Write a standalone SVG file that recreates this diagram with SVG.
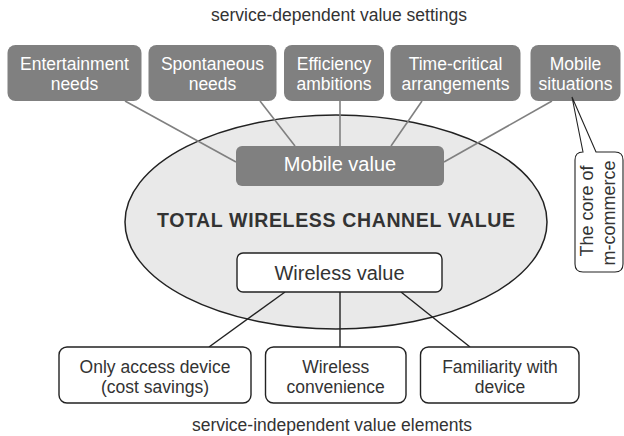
<svg xmlns="http://www.w3.org/2000/svg" width="624" height="436" viewBox="0 0 624 436">
<style>
text{font-family:"Liberation Sans",Arial,sans-serif;font-size:17.5px;text-anchor:middle;fill:#333}
.dk rect{fill:#808080;stroke:none}
.dk text{fill:#fff}
.lt rect{fill:#fff;stroke:#222;stroke-width:1.4}
.gl{stroke:#808080;stroke-width:1.6;fill:none}
.bl{stroke:#222;stroke-width:1.4;fill:none}
</style>
<rect width="624" height="436" fill="#fff"/>
<text x="339" y="21">service-dependent value settings</text>
<text x="332" y="431">service-independent value elements</text>
<g id="ellipse">
<ellipse cx="336" cy="222" rx="211" ry="107" fill="#e9e9e9" stroke="#222" stroke-width="1.5"/>
<text x="336" y="227" style="font-weight:bold;font-size:19.5px" textLength="358" lengthAdjust="spacing">TOTAL WIRELESS CHANNEL VALUE</text>
</g>
<g id="connectors">
<line class="gl" x1="125" y1="101" x2="236" y2="162"/>
<line class="gl" x1="260" y1="101" x2="295" y2="146"/>
<line class="gl" x1="340" y1="101" x2="340" y2="146"/>
<line class="gl" x1="422" y1="101" x2="391" y2="146"/>
<line class="gl" x1="552" y1="101" x2="444" y2="162"/>
<line class="bl" x1="285" y1="292" x2="209" y2="347"/>
<line class="bl" x1="340" y1="292" x2="340" y2="347"/>
<line class="bl" x1="401" y1="292" x2="470" y2="347"/>
</g>
<g id="entertainment" class="dk"><rect x="7.5" y="45" width="134" height="56" rx="8"/><text x="74.5" y="70">Entertainment</text><text x="74.5" y="90">needs</text></g>
<g id="spontaneous" class="dk"><rect x="148.5" y="45" width="128" height="56" rx="8"/><text x="212.5" y="70">Spontaneous</text><text x="212.5" y="90">needs</text></g>
<g id="efficiency" class="dk"><rect x="284" y="45" width="100" height="56" rx="8"/><text x="334" y="70">Efficiency</text><text x="334" y="90">ambitions</text></g>
<g id="timecritical" class="dk"><rect x="390.5" y="45" width="130" height="56" rx="8"/><text x="455.5" y="70">Time-critical</text><text x="455.5" y="90">arrangements</text></g>
<g id="mobilesituations" class="dk"><rect x="530.5" y="45" width="90" height="56" rx="8"/><text x="575.5" y="70">Mobile</text><text x="575.5" y="90">situations</text></g>
<g id="mobilevalue" class="dk"><rect x="236" y="146" width="208" height="40" rx="6"/><text x="340" y="171" style="font-size:20px">Mobile value</text></g>
<g id="wirelessvalue" class="lt"><rect x="237" y="253" width="205" height="39" rx="6"/><text x="339.5" y="280" style="font-size:20px">Wireless value</text></g>
<g id="onlyaccess" class="lt"><rect x="59" y="347" width="192" height="56" rx="8"/><text x="155" y="372.5">Only access device</text><text x="155" y="393">(cost savings)</text></g>
<g id="convenience" class="lt"><rect x="265.5" y="347" width="140.5" height="56" rx="8"/><text x="335.7" y="372.5">Wireless</text><text x="335.7" y="393">convenience</text></g>
<g id="familiarity" class="lt"><rect x="420.5" y="347" width="158.5" height="56" rx="8"/><text x="500" y="372.5">Familiarity with</text><text x="500" y="393">device</text></g>
<g id="callout">
<path d="M583 152 L572 97 L596 152 L615 152 Q623 152 623 160 L623 264 Q623 272 615 272 L583 272 Q575 272 575 264 L575 160 Q575 152 583 152 Z" fill="#fff" stroke="#222" stroke-width="1.1"/>
<text transform="translate(593,211) rotate(-90)" style="font-size:18px">The core of</text>
<text transform="translate(615,213) rotate(-90)" style="font-size:18px">m-commerce</text>
</g>
</svg>
